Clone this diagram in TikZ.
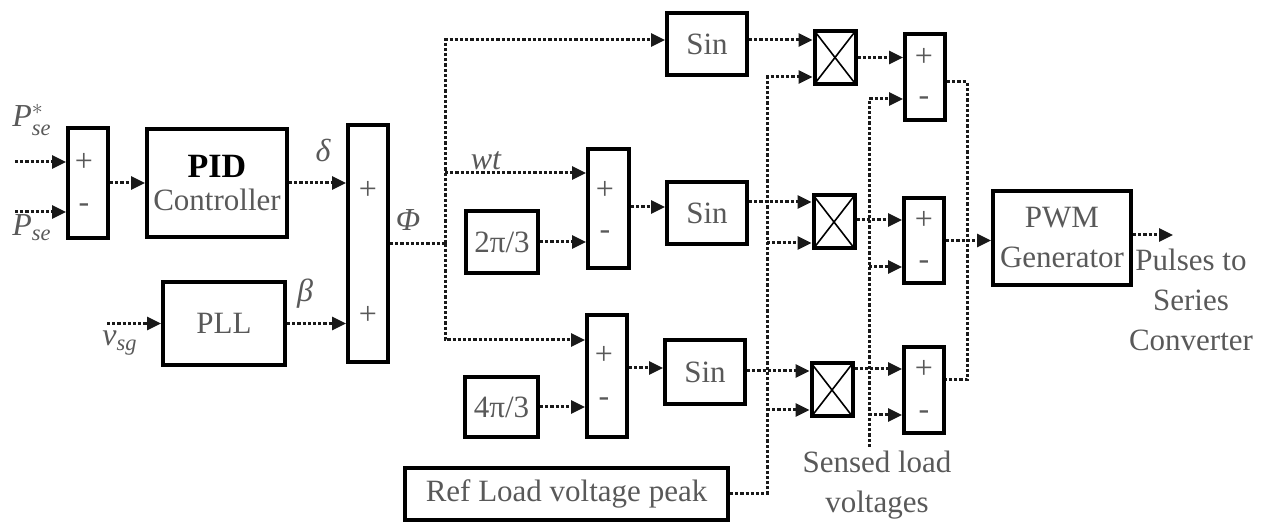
\documentclass[tikz,border=0pt]{standalone}
\usepackage{amsmath}
\usepackage{fontspec}
\setmainfont{Liberation Serif}
\usetikzlibrary{arrows.meta, positioning, calc}

\begin{document}
\begin{tikzpicture}[
    x=0.5pt, y=-0.5pt,
    every node/.style={font=\fontsize{15.5}{20}\selectfont, text=black!65},
    block/.style={draw=black, line width=2pt, minimum width=40pt, minimum height=31pt, inner sep=1pt, align=center},
    sumbox/.style={draw=black, line width=2pt, minimum width=20pt, inner sep=0pt},
    multbox/.style={draw=black, line width=2pt, minimum width=20.5pt, minimum height=26.5pt, inner sep=0pt},
    sign/.style={font=\fontsize{16}{16}\selectfont, inner sep=0pt},
    dline/.style={draw=black!90, line width=1.5pt, dash pattern=on 1.6pt off 1pt},
    arrow/.style={dline, -{Triangle[length=7pt, width=6.5pt]}},
    label/.style={font=\fontsize{16}{20}\selectfont\itshape, inner sep=0pt}
]
\useasboundingbox (0,0) rectangle (1279,528);

% blocks
\node[sumbox, minimum height=55pt] (sumA) at (88,183) {};
\node[block, minimum width=70pt, minimum height=54pt] (pid) at (217,183) {{\color{black}\fontsize{17}{20}\selectfont\textbf{PID}}\\[-3.5pt]Controller};
\node[block, minimum width=61pt, minimum height=41.5pt] (pll) at (224,323.5) {PLL};
\node[sumbox, minimum height=118.5pt] (sumB) at (368,243.5) {};
\node[block] (sin1) at (707,44.5) {Sin};
\node[sumbox, minimum width=20.5pt, minimum height=59.5pt] (sumC) at (608.5,208.5) {};
\node[block, minimum width=36pt] (twopi) at (502,242) {2π/3};
\node[block] (sin2) at (707,213) {Sin};
\node[sumbox, minimum height=61pt] (sumD) at (607,376) {};
\node[block, minimum width=36.5pt, minimum height=30pt] (fourpi) at (501.5,407) {4π/3};
\node[block, minimum height=32pt] (sin3) at (705,372) {Sin};
\node[block, minimum width=161.5pt, minimum height=26pt] (ref) at (566.5,494) {Ref Load voltage peak};
\node[multbox] (mult1) at (835,57.5) {};
\node[multbox] (mult2) at (834,222) {};
\node[multbox] (mult3) at (832,390) {};
\node[sumbox, minimum height=43pt] (sumE) at (925,77) {};
\node[sumbox, minimum height=42.5pt] (sumF) at (924,240.5) {};
\node[sumbox, minimum height=43pt] (sumG) at (924,390) {};
\node[block, minimum width=69pt, minimum height=47pt] (pwm) at (1062,238) {PWM\\Generator};

\foreach \m in {mult1,mult2,mult3}
  \draw[line width=0.8pt] ([shift={(1pt,-1pt)}]\m.north west) -- ([shift={(-1pt,1pt)}]\m.south east)
                          ([shift={(-1pt,-1pt)}]\m.north east) -- ([shift={(1pt,1pt)}]\m.south west);

% signs
\foreach \n/\x/\yp/\ym in {a/84/162/208, c/605/190/235, d/604/355/402, e/924/57/101, f/924/220/265, g/924/369/415} {
  \node[sign] (p\n) at (\x,\yp) {+};
  \node[sign] (m\n) at (\x,\ym) {-};
}
\node[sign] (pb1) at (368,190) {+};
\node[sign] (pb2) at (368,315) {+};

% labels
\node[label] (lPs) at (32,120) {P$^{*}_{\textit{se}}$};
\node[label] (lPm) at (32,228) {P$_{\textit{se}}$};
\node[label] (ldelta) at (323,150) {δ};
\node[label] (lbeta) at (305,294) {β};
\node[label] (lphi) at (408,220) {Φ};
\node[label] (lwt) at (486,161) {wt};
\node[label] (lvsg) at (120,343) {v$_{\textit{sg}}$};
\node[align=center] (lsensed) at (877,485) {Sensed load\\voltages};
\node[align=center] (lpulse) at (1191,300) {Pulses to\\Series\\Converter};

% connectors
\coordinate (inPs) at (15,162);
\coordinate (inPm) at (15,212);
\coordinate (inV) at (107,323.5);
\draw[arrow] (inPs) -- (sumA.west |- inPs);
\draw[arrow] (inPm) -- (sumA.west |- inPm);
\draw[arrow] (sumA) -- (pid);
\draw[arrow] (pid.east) -- (sumB.west |- pid.east);
\draw[arrow] (inV) -- (pll);
\draw[arrow] (pll.east) -- (sumB.west |- pll.east);

\coordinate (split) at (445,243.5);
\draw[dline] (sumB) -- (split);
\draw[arrow] (split) |- (sin1.west |- 0,40);
\draw[arrow] (split) |- (sumD.west |- 0,340);
\draw[arrow] (split |- 0,173) -- (sumC.west |- 0,173);
\draw[arrow] (twopi) -- (sumC.west |- twopi);
\draw[arrow] (fourpi) -- (sumD.west |- fourpi);
\draw[arrow] (sumC.east |- 0,207) -- (sin2.west |- 0,207);
\draw[arrow] (sumD.east |- 0,368) -- (sin3.west |- 0,368);

\draw[arrow] (sin1.east |- 0,40) -- (mult1.west |- 0,40);
\draw[arrow] (sin2.east |- 0,202) -- (mult2.west |- 0,202);
\draw[arrow] (sin3.east |- 0,371) -- (mult3.west |- 0,371);

\coordinate (refup) at (767,77);
\draw[arrow] (ref.east) -| (refup) -- (mult1.west |- refup);
\draw[arrow] (refup |- 0,243) -- (mult2.west |- 0,243);
\draw[arrow] (refup |- 0,410) -- (mult3.west |- 0,410);

\draw[arrow] (mult1) -- (sumE.west |- mult1);
\draw[arrow] (mult2.east |- 0,220) -- (sumF.west |- 0,220);
\draw[arrow] (mult3.east |- 0,369) -- (sumG.west |- 0,369);

\coordinate (sensed) at (869,447);
\draw[arrow] (sensed) |- (sumE.west |- 0,99);
\draw[arrow] (sensed |- 0,267) -- (sumF.west |- 0,267);
\draw[arrow] (sensed |- 0,415) -- (sumG.west |- 0,415);

\coordinate (join) at (967,240.5);
\draw[dline] (sumE.east |- 0,82) -| (join) |- (sumG.east |- 0,380);
\draw[arrow] (sumF) -- (pwm.west |- sumF);
\coordinate (pulse) at (1173,235);
\draw[arrow] (pwm.east |- pulse) -- (pulse);

\end{tikzpicture}
\end{document}
